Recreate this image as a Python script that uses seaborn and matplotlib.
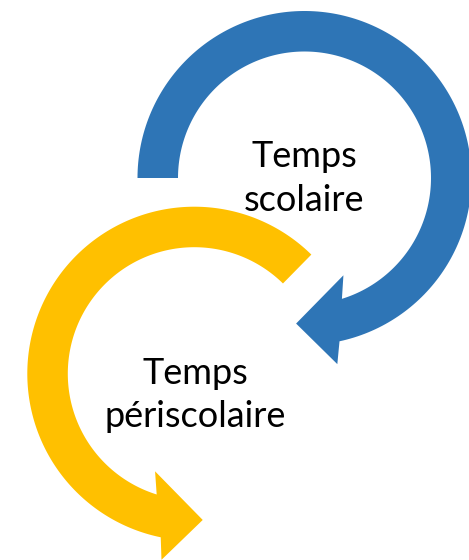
import numpy as np
import matplotlib
matplotlib.use("Agg")
import matplotlib.pyplot as plt
import seaborn as sns

# ---------- data (pixel space, y down; angles in degrees, screen convention) ----------
labels = [["Temps", "scolaire"], ["Temps", "périscolaire"]]
colors = ["#2E75B6", "#FFC000"]
centers = [(304.5, 178.0), (194.3, 373.7)]
r_inner = [126.5, 126.5]
r_outer = [167.0, 167.0]
start_angle = [180.0, 314.5]
# head: (angle, radius) for inner end, upper wing, tip, lower wing, outer end
inner_end = [(432.8, 126.5), (107.3, 126.5)]
wing_in = [(428.2, 104.8), (111.9, 105.2)]
tip = [(453.3, 145.8), (86.7, 146.5)]
wing_out = [(440.0, 189.0), (100.0, 189.0)]
outer_end = [(437.9, 167.0), (101.6, 167.0)]
# text baselines
text_x = [304.0, 195.0]
text_baselines = [[166.7, 210.7], [384.3, 426.7]]


def polar(c, ang, r):
    a = np.deg2rad(ang)
    return c[0] + r * np.cos(a), c[1] + r * np.sin(a)


sns.set_theme(style="white")
plt.rcParams["font.family"] = ["Lato", "DejaVu Sans"]

fig = plt.figure(figsize=(4.69, 5.6), dpi=100)
ax = fig.add_axes([0, 0, 1, 1])
ax.set_xlim(0, 469)
ax.set_ylim(560, 0)
ax.set_axis_off()

for i in range(2):
    c = centers[i]
    a_out = np.linspace(start_angle[i], outer_end[i][0], 200)
    a_in = np.linspace(inner_end[i][0], start_angle[i], 200)
    xs, ys = polar(c, a_out, r_outer[i])
    pts = list(zip(xs, ys))
    for ang, r in [wing_out[i], tip[i], wing_in[i]]:
        pts.append(polar(c, ang, r))
    xs, ys = polar(c, a_in, r_inner[i])
    pts += list(zip(xs, ys))
    pts = np.array(pts)
    ax.fill(pts[:, 0], pts[:, 1], color=colors[i], lw=0)

    for line, yb in zip(labels[i], text_baselines[i]):
        ax.text(text_x[i], yb, line, ha="center", va="baseline",
                fontsize=26, color="black")

fig.savefig("out.png", dpi=100)
